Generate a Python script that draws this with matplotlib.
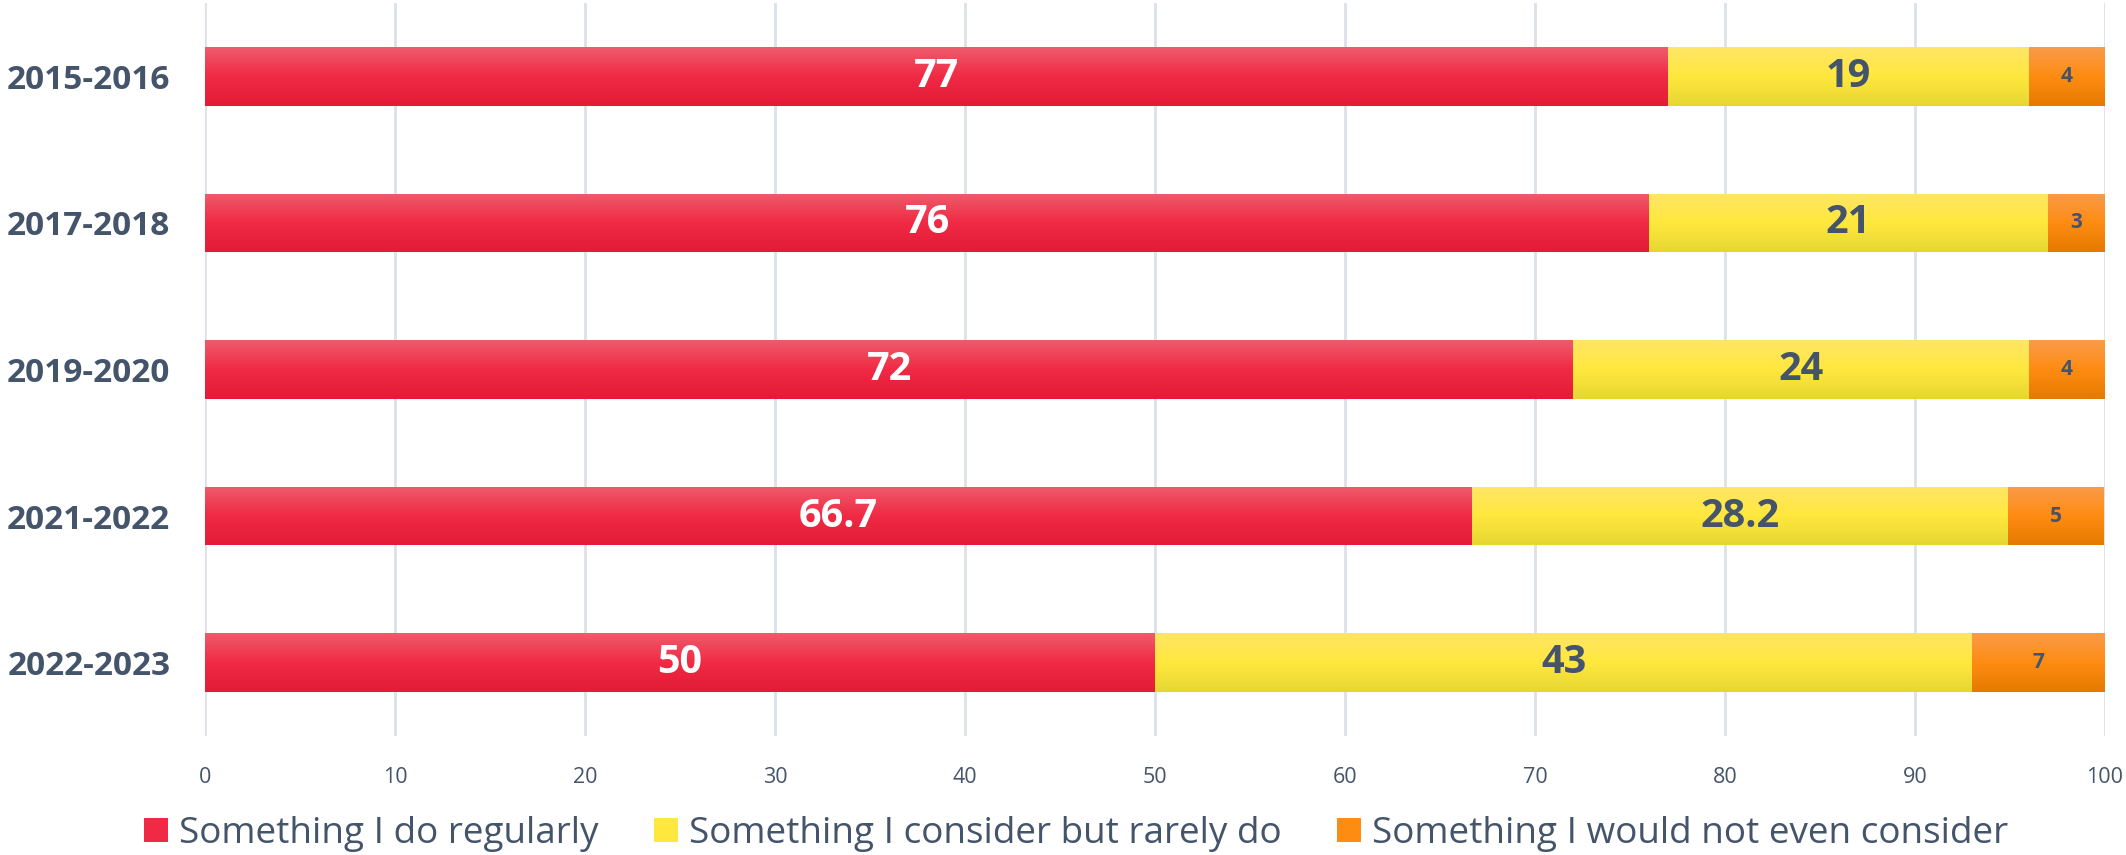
import numpy as np
import matplotlib
matplotlib.use("Agg")
import matplotlib.pyplot as plt
from matplotlib.colors import LinearSegmentedColormap
from matplotlib.patches import Patch

plt.rcParams['font.family'] = ['Open Sans', 'DejaVu Sans']

categories = ["2015-2016", "2017-2018", "2019-2020", "2021-2022", "2022-2023"]
regularly = [77, 76, 72, 66.7, 50]
rarely = [19, 21, 24, 28.2, 43]
never = [4, 3, 4, 5, 7]
series_names = ["Something I do regularly", "Something I consider but rarely do",
                "Something I would not even consider"]
xticks = list(range(0, 101, 10))

gradients = [
    ["#EE5C6C", "#F02A44", "#E31B36"],
    ["#FFE566", "#FFE83E", "#E6D632"],
    ["#F99B4A", "#FF8C12", "#E57A00"],
]
label_colors = ["white", "#44546A", "#44546A"]
label_sizes = [28.5, 28.5, 15]
text_col = "#44546A"
grid_col = "#DCE1E8"

fig = plt.figure(figsize=(21.26, 8.55), dpi=100)
ax = fig.add_axes([205/2126, 1-736/855, 1900/2126, 733/855])

ypos = np.arange(len(categories))
left = np.zeros(len(categories))
height = 0.40
for si, vals in enumerate([regularly, rarely, never]):
    bars = ax.barh(ypos, vals, left=left, height=height, color=gradients[si][1],
                   edgecolor='none', zorder=2)
    cmap = LinearSegmentedColormap.from_list(f"g{si}", gradients[si])
    grad = np.linspace(0, 1, 256).reshape(-1, 1)
    for b, v in zip(bars, vals):
        x0, y0 = b.get_x(), b.get_y()
        w, h = b.get_width(), b.get_height()
        im = ax.imshow(grad, cmap=cmap, aspect='auto',
                       extent=(x0, x0 + w, y0 + h, y0), origin='upper',
                       zorder=2.5, interpolation='bilinear')
        im.set_clip_path(b)
        ax.text(x0 + w/2, y0 + h/2, f"{v:g}", ha='center', va='center',
                color=label_colors[si], fontsize=label_sizes[si],
                fontweight='bold', zorder=4)
    left = left + np.array(vals)

ax.set_xlim(0, 100)
ax.set_ylim(len(categories) - 0.5, -0.5)
ax.set_xticks(xticks)
ax.set_xticklabels([str(t) for t in xticks], fontsize=15.5, color=text_col)
ax.set_yticks(ypos)
ax.set_yticklabels(categories, fontsize=24, fontweight='bold', color=text_col)
ax.tick_params(axis='x', length=0, pad=22)
ax.tick_params(axis='y', length=0, pad=25)
ax.grid(axis='x', color=grid_col, linewidth=2, zorder=0)
ax.set_axisbelow(True)
for s in ax.spines.values():
    s.set_visible(False)

handles = [Patch(facecolor=gradients[i][1], edgecolor='none') for i in range(3)]
fig.legend(handles, series_names, loc='center', bbox_to_anchor=(0.506, 1-834/855),
           ncol=3, frameon=False, fontsize=26.6, labelcolor=text_col,
           handlelength=0.65, handleheight=0.65, handletextpad=0.3,
           columnspacing=1.5, borderpad=0)

fig.savefig("out.png", dpi=100, facecolor='white')
